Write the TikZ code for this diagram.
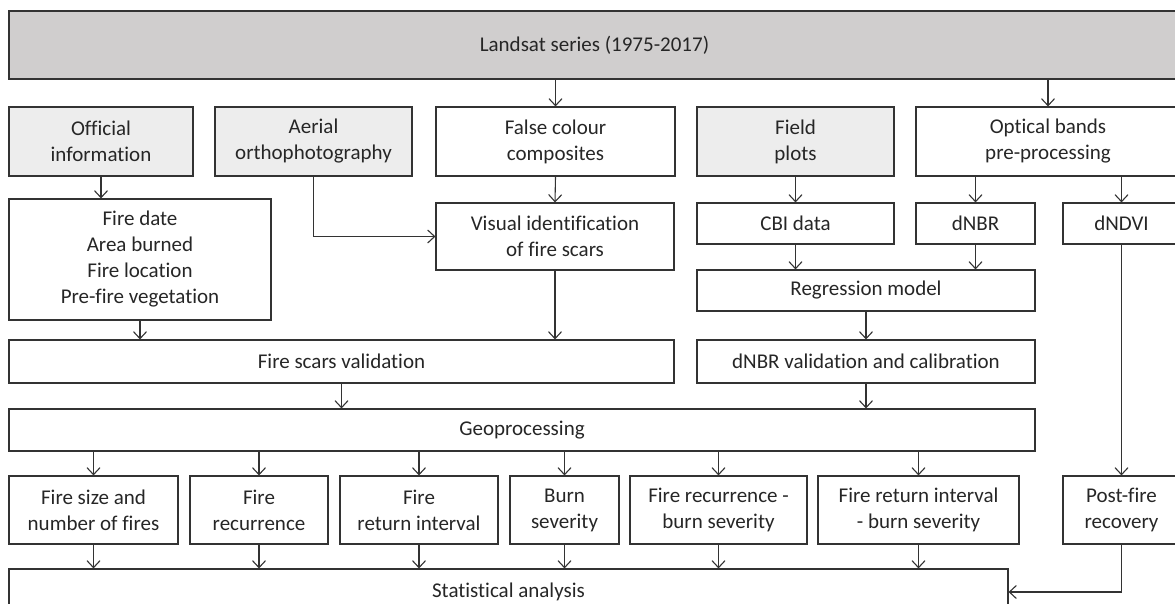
\documentclass[tikz,border=0pt]{standalone}
\usepackage{fontspec}
\setmainfont{Carlito}[Ligatures=NoCommon]
\usepackage{xcolor}
\usetikzlibrary{arrows.meta,positioning,calc}
\definecolor{darkbox}{HTML}{D0CECE}
\definecolor{lightbox}{HTML}{EDEDED}
\tikzset{
  box/.style={draw=black!80, line width=1.1pt, inner sep=0pt, align=center,
              text=black!85, font=\fontsize{21}{26}\selectfont},
  srcbox/.style={box, fill=lightbox},
  flow/.style={->, draw=black!80, line width=1.1pt},
  >={Straight Barb[length=7pt,width=13pt]}
}

\begin{document}
\begin{tikzpicture}[x=1pt,y=-1pt]
  \useasboundingbox (0,0) rectangle (1175,603);
  \clip (0,0) rectangle (1175,603);

  % Data sources
  \node[box, fill=darkbox, minimum width=1171pt, minimum height=68pt] (landsat) at (594.5,45) {Landsat series (1975-2017)};
  \node[srcbox, minimum width=184pt, minimum height=69pt] (official) at (101,141.5) {Official\\information};
  \node[srcbox, minimum width=197pt, minimum height=69pt] (aerial) at (313.5,141.5) {Aerial\\orthophotography};
  \node[box, minimum width=239pt, minimum height=69pt] (falsecol) at (555.5,141.5) {False colour\\composites};
  \node[srcbox, minimum width=197pt, minimum height=69pt] (field) at (795.5,141.5) {Field\\plots};
  \node[box, minimum width=264pt, minimum height=69pt] (optical) at (1048,141.5) {Optical bands\\pre-processing};

  % Intermediate products
  \node[box, minimum width=262pt, minimum height=121pt] (firedate) at (140,259.5) {Fire date\\Area burned\\Fire location\\Pre-fire vegetation};
  \node[box, minimum width=238pt, minimum height=67pt] (visual) at (555,236.5) {Visual identification\\of fire scars};
  \node[box, minimum width=197pt, minimum height=41pt] (cbi) at (795.5,223.5) {CBI data};
  \node[box, minimum width=119pt, minimum height=41pt] (dnbr) at (975.5,223.5) {dNBR};
  \node[box, minimum width=117pt, minimum height=41pt] (dndvi) at (1121.5,223.5) {dNDVI};
  \node[box, minimum width=338pt, minimum height=41pt] (regression) at (866,290.5) {Regression model};

  % Validation
  \node[box, minimum width=665pt, minimum height=43pt] (scarsval) at (341.5,361.5) {Fire scars validation};
  \node[box, minimum width=338pt, minimum height=43pt] (dnbrval) at (866,361.5) {dNBR validation and calibration};
  \node[box, minimum width=1026pt, minimum height=42pt] (geoproc) at (522,430) {Geoprocessing};

  % Outputs
  \node[box, minimum width=169pt, minimum height=68pt] (firesize) at (93.5,510) {Fire size and\\number of fires};
  \node[box, minimum width=138pt, minimum height=68pt] (recurrence) at (259,510) {Fire\\recurrence};
  \node[box, minimum width=158pt, minimum height=68pt] (returnint) at (419,510) {Fire\\return interval};
  \node[box, minimum width=109pt, minimum height=68pt] (severity) at (564.5,510) {Burn\\severity};
  \node[box, minimum width=177pt, minimum height=68pt] (recsev) at (718.5,510) {Fire recurrence -\\burn severity};
  \node[box, minimum width=201pt, minimum height=68pt] (retsev) at (918.5,510) {Fire return interval\\- burn severity};
  \node[box, minimum width=117pt, minimum height=68pt] (postfire) at (1121.5,510) {Post-fire\\recovery};
  \node[box, minimum width=999pt, minimum height=46pt] (stats) at (508.5,592) {Statistical analysis};

  % Flow
  \draw[flow] (landsat.south -| falsecol.north) -- (falsecol.north);
  \draw[flow] (landsat.south -| optical.north) -- (optical.north);
  \draw[flow] (official.south) -- (official.south |- firedate.north);
  \draw[flow] (falsecol.south) -- (visual.north);
  \draw[flow] (aerial.south) |- (visual.west);
  \draw[flow] (field.south) -- (cbi.north);
  \draw[flow] (optical.south -| dnbr.north) -- (dnbr.north);
  \draw[flow] (optical.south -| dndvi.north) -- (dndvi.north);
  \draw[flow] (cbi.south) -- (cbi.south |- regression.north);
  \draw[flow] (dnbr.south) -- (dnbr.south |- regression.north);
  \draw[flow] (regression.south) -- (dnbrval.north);
  \draw[flow] (firedate.south) -- (firedate.south |- scarsval.north);
  \draw[flow] (visual.south) -- (visual.south |- scarsval.north);
  \draw[flow] (scarsval.south) -- (scarsval.south |- geoproc.north);
  \draw[flow] (dnbrval.south) -- (dnbrval.south |- geoproc.north);
  \foreach \out in {firesize,recurrence,returnint,severity,recsev,retsev} {
    \draw[flow] (geoproc.south -| \out.north) -- (\out.north);
    \draw[flow] (\out.south) -- (\out.south |- stats.north);
  }
  \draw[flow] (dndvi.south) -- (postfire.north);
  \draw[flow] (postfire.south) |- (stats.east);
\end{tikzpicture}
\end{document}
